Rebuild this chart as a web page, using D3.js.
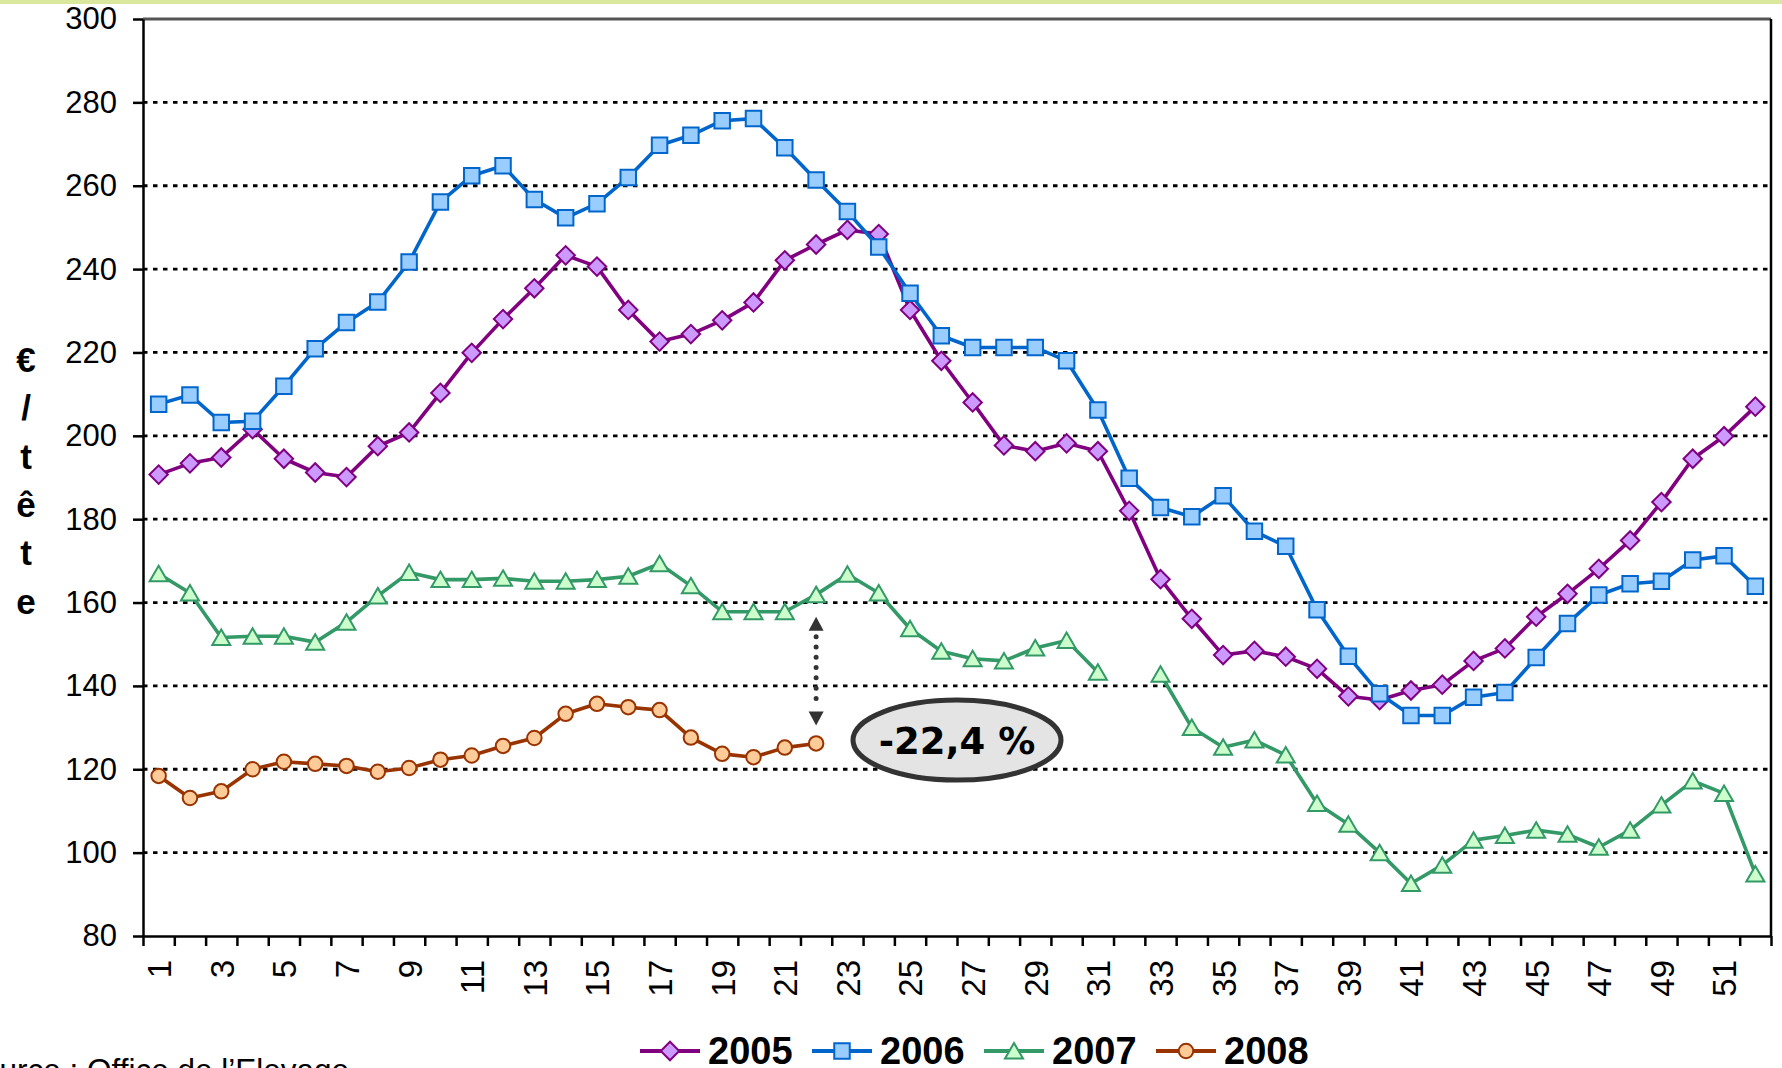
<!DOCTYPE html>
<head>
<meta charset="utf-8">
<style>
body { margin: 0; background: white; }
svg { display: block; }
.axis text { font-family: "Liberation Sans", Arial, sans-serif; font-size: 31px; fill: black; }
.axis path, .axis line { stroke: black; stroke-width: 2.5px; }
</style>
</head>
<body>
<div id="mainDiv" style="width: 1782px; height: 1068px; background-color: white;">
<script src="https://d3js.org/d3.v7.min.js"></script>
<script>

var width = 1782;
var height = 1068;

// weeks of the year
var weeks = [1,2,3,4,5,6,7,8,9,10,11,12,13,14,15,16,17,18,19,20,21,22,23,24,25,26,
             27,28,29,30,31,32,33,34,35,36,37,38,39,40,41,42,43,44,45,46,47,48,49,50,51,52];
var weekLabels = [1,3,5,7,9,11,13,15,17,19,21,23,25,27,29,31,33,35,37,39,41,43,45,47,49,51];
var yTicks = [80,100,120,140,160,180,200,220,240,260,280,300];

// prices, euros per head
var s2005 = [190.7,193.4,194.8,201.6,194.5,191.2,190.1,197.5,200.8,210.3,219.9,228.0,235.4,243.3,240.6,230.2,
             222.6,224.4,227.7,232.0,242.1,245.9,249.4,248.4,230.2,218.0,208.0,197.7,196.3,198.2,196.3,182.0,
             165.6,156.1,147.4,148.4,147.0,144.1,137.5,136.6,138.9,140.3,146.0,149.0,156.6,162.1,168.1,174.9,
             184.1,194.5,199.9,207.0];
var s2006 = [207.6,209.8,203.2,203.5,211.9,220.9,227.2,232.1,241.7,256.1,262.4,264.8,256.7,252.3,255.7,262.0,
             269.7,272.1,275.6,276.1,269.1,261.4,253.8,245.3,234.2,224.0,221.2,221.2,221.2,218.0,206.2,189.8,
             182.8,180.6,185.6,177.1,173.5,158.3,147.1,138.1,132.9,132.9,137.3,138.4,146.8,155.0,161.8,164.5,
             165.1,170.2,171.2,163.9];
var s2007 = [166.9,162.3,151.6,151.9,151.9,150.5,155.3,161.6,167.2,165.5,165.5,165.8,165.1,165.1,165.5,166.3,
             169.3,164.0,157.8,157.8,157.8,161.9,166.8,162.3,153.7,148.3,146.5,146.0,149.1,150.9,143.3,null,
             142.8,130.0,125.3,127.0,123.4,111.8,106.8,100.0,92.6,97.0,103.0,104.1,105.4,104.4,101.3,105.4,
             111.4,117.2,114.2,94.9];
var s2008 = [118.4,113.1,114.7,120.0,121.8,121.3,120.8,119.4,120.3,122.3,123.3,125.6,127.5,133.3,135.7,134.9,
             134.2,127.6,123.7,122.9,125.2,126.2];

var series = [
  { name: "2005", values: s2005, line: "#800080", fill: "#cc99ff", symbol: "diamond" },
  { name: "2006", values: s2006, line: "#0066cc", fill: "#99ccff", symbol: "square" },
  { name: "2007", values: s2007, line: "#339966", fill: "#ccffcc", symbol: "triangle" },
  { name: "2008", values: s2008, line: "#993300", fill: "#ffcc99", symbol: "circle" }
];

// annotation: gap between 2008 and 2007 at the last known week
var gapWeek = 22;
var gapText = "-22,4 %";
var bubbleWeek = 26.5, bubbleValue = 127;

var plot = { left: 143, right: 1771, top: 19, bottom: 936 };

var svg = d3.select("#mainDiv").append("svg")
    .attr("width", width)
    .attr("height", height);

svg.append("rect")
    .attr("x", 0).attr("y", 0)
    .attr("width", width).attr("height", 4)
    .attr("fill", "#d9e89c");

var x = d3.scaleLinear().domain([0.5, 52.5]).range([plot.left, plot.right]);
var y = d3.scaleLinear().domain([80, 300]).range([plot.bottom, plot.top]);

// gridlines
svg.append("g")
    .selectAll("line")
    .data(yTicks.filter(function(d) { return d > 80; }))
    .enter().append("line")
    .attr("x1", plot.left).attr("x2", plot.right)
    .attr("y1", function(d) { return y(d); })
    .attr("y2", function(d) { return y(d); })
    .attr("stroke", function(d) { return d == 300 ? "#555" : "black"; })
    .attr("stroke-width", 2.8)
    .attr("stroke-dasharray", function(d) { return d == 300 ? null : "4.5,5.5"; });

// right border of the plot area
svg.append("line")
    .attr("x1", plot.right).attr("x2", plot.right)
    .attr("y1", plot.top).attr("y2", plot.bottom)
    .attr("stroke", "black").attr("stroke-width", 2.5);

// y axis
svg.append("g")
    .attr("class", "axis")
    .attr("transform", "translate(" + plot.left + ",0)")
    .call(d3.axisLeft(y).tickValues(yTicks).tickSize(10).tickSizeOuter(0).tickPadding(16));

// x axis: marks between weeks
var bounds = d3.range(0.5, 53, 1);
svg.append("g")
    .attr("class", "axis")
    .attr("transform", "translate(0," + plot.bottom + ")")
    .call(d3.axisBottom(x).tickValues(bounds).tickSize(10).tickSizeOuter(0).tickFormat(""));

// x axis: labels on odd weeks, rotated
var xl = svg.append("g")
    .attr("class", "axis")
    .attr("transform", "translate(0," + plot.bottom + ")")
    .call(d3.axisBottom(x).tickValues(weekLabels).tickSize(0));
xl.select(".domain").remove();
xl.selectAll("text")
    .attr("x", -24)
    .attr("y", 0)
    .attr("dy", "0.36em")
    .attr("transform", "rotate(-90)")
    .style("font-size", "33px")
    .style("text-anchor", "end");

// y title, stacked letters
var titleChars = ["€", "/", "t", "ê", "t", "e"];
svg.append("g").selectAll("text")
    .data(titleChars)
    .enter().append("text")
    .attr("x", 26)
    .attr("y", function(d, i) { return 372 + i * 48.3; })
    .attr("text-anchor", "middle")
    .style("font-family", "Liberation Sans, Arial, sans-serif")
    .style("font-weight", "bold")
    .style("font-size", "35px")
    .text(function(d) { return d; });

function markerPath(type) {
  if (type == "diamond") return d3.symbol().type(d3.symbolSquare).size(170)();
  if (type == "square") return d3.symbol().type(d3.symbolSquare).size(240)();
  if (type == "triangle") return "M0,-8L9,7.5L-9,7.5Z";
  return d3.symbol().type(d3.symbolCircle).size(165)();
}
function markerRot(type) { return type == "diamond" ? " rotate(45)" : ""; }

var line = d3.line()
    .defined(function(d) { return d != null; })
    .x(function(d, i) { return x(weeks[i]); })
    .y(function(d) { return y(d); });

series.forEach(function(s) {
  var g = svg.append("g");
  g.append("path")
      .attr("d", line(s.values))
      .attr("fill", "none")
      .attr("stroke", s.line)
      .attr("stroke-width", 3.6)
      .attr("stroke-linejoin", "round");
  g.selectAll("path.mk")
      .data(s.values.map(function(v, i) { return { w: weeks[i], v: v }; })
                    .filter(function(d) { return d.v != null; }))
      .enter().append("path")
      .attr("class", "mk")
      .attr("d", markerPath(s.symbol))
      .attr("transform", function(d) { return "translate(" + x(d.w) + "," + y(d.v) + ")" + markerRot(s.symbol); })
      .attr("fill", s.fill)
      .attr("stroke", s.line)
      .attr("stroke-width", 2);
});

// double arrow between 2007 and 2008
var ax = x(gapWeek);
var aTop = y(s2007[gapWeek - 1]) + 22;
var aBot = y(s2008[gapWeek - 1]) - 18;
var ann = svg.append("g");
ann.append("line")
    .attr("x1", ax).attr("x2", ax)
    .attr("y1", aTop + 20).attr("y2", aBot - 17)
    .attr("stroke", "#333").attr("stroke-width", 5)
    .attr("stroke-linecap", "round")
    .attr("stroke-dasharray", "0,10.3");
ann.append("path")
    .attr("d", "M" + ax + "," + aTop + "l7.5,14l-15,0z")
    .attr("fill", "#333");
ann.append("path")
    .attr("d", "M" + ax + "," + aBot + "l7.5,-14l-15,0z")
    .attr("fill", "#333");

ann.append("ellipse")
    .attr("cx", x(bubbleWeek)).attr("cy", y(bubbleValue))
    .attr("rx", 104).attr("ry", 40)
    .attr("fill", "#e4e4e4")
    .attr("stroke", "#333")
    .attr("stroke-width", 5);
ann.append("text")
    .attr("x", x(bubbleWeek)).attr("y", y(bubbleValue) + 14)
    .attr("text-anchor", "middle")
    .style("font-family", "DejaVu Sans, sans-serif")
    .style("font-weight", "bold")
    .style("font-size", "37px")
    .text(gapText);

// legend
var legend = svg.append("g").attr("transform", "translate(640,1051)");
var item = legend.selectAll("g")
    .data(series)
    .enter().append("g")
    .attr("transform", function(d, i) { return "translate(" + i * 172 + ",0)"; });
item.append("line")
    .attr("x1", 0).attr("x2", 60)
    .attr("stroke", function(d) { return d.line; })
    .attr("stroke-width", 3.8);
item.append("path")
    .attr("d", function(d) { return markerPath(d.symbol); })
    .attr("transform", function(d) { return "translate(30,0)" + markerRot(d.symbol); })
    .attr("fill", function(d) { return d.fill; })
    .attr("stroke", function(d) { return d.line; })
    .attr("stroke-width", 2);
item.append("text")
    .attr("x", 68).attr("y", 13)
    .style("font-family", "Liberation Sans, Arial, sans-serif")
    .style("font-weight", "bold")
    .style("font-size", "38px")
    .text(function(d) { return d.name; });

// source, partly off the page as in the original
svg.append("text")
    .attr("x", -39).attr("y", 1081)
    .style("font-family", "Liberation Sans, Arial, sans-serif")
    .style("font-size", "31.5px")
    .text("Source : Office de l’Elevage");

</script>
</div>
</body>
</html>
